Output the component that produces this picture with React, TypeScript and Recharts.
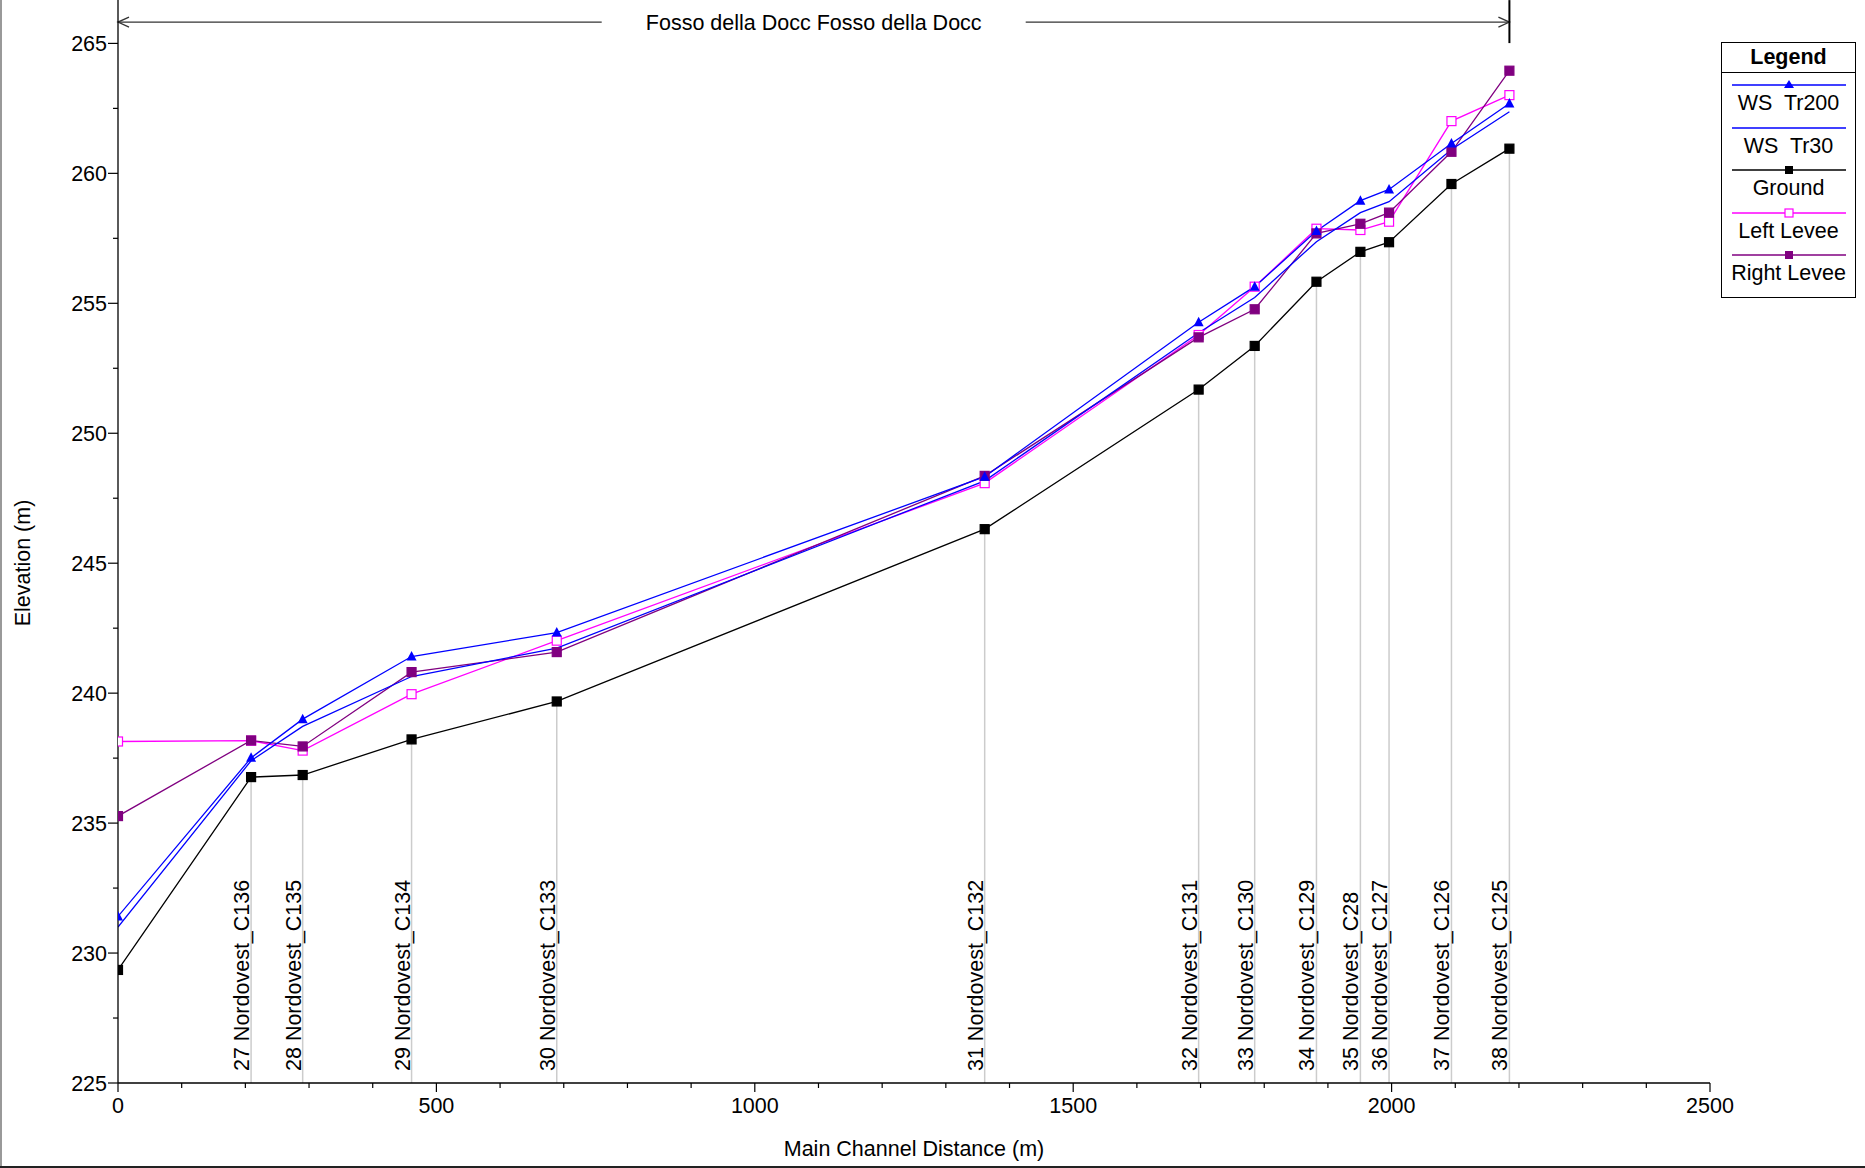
import React from 'react';
import { LineChart, Line, XAxis, YAxis, ReferenceLine } from 'recharts';

// river stations along the main channel (m) and their names
const DIST = [0, 209, 290, 461, 689, 1361, 1697, 1785, 1882, 1951, 1996, 2094, 2185];
const STATIONS = [
  '',
  '27 Nordovest_C136',
  '28 Nordovest_C135',
  '29 Nordovest_C134',
  '30 Nordovest_C133',
  '31 Nordovest_C132',
  '32 Nordovest_C131',
  '33 Nordovest_C130',
  '34 Nordovest_C129',
  '35 Nordovest_C28',
  '36 Nordovest_C127',
  '37 Nordovest_C126',
  '38 Nordovest_C125',
];

const WS_TR200 = [231.41, 237.51, 239.0, 241.41, 242.33, 248.33, 254.27, 255.64, 257.78, 258.95, 259.38, 261.15, 262.69];
const WS_TR30 = [231.0, 237.4, 238.72, 240.64, 241.73, 248.17, 253.87, 255.22, 257.37, 258.49, 258.91, 260.92, 262.37];
const GROUND = [229.35, 236.77, 236.85, 238.22, 239.68, 246.31, 251.68, 253.36, 255.83, 256.98, 257.35, 259.59, 260.95];
const LEFT_LEVEE = [238.14, 238.17, 237.79, 239.96, 242.02, 248.08, 253.78, 255.64, 257.87, 257.82, 258.14, 262.01, 263.01];
const RIGHT_LEVEE = [235.27, 238.18, 237.95, 240.81, 241.58, 248.36, 253.69, 254.77, 257.69, 258.06, 258.49, 260.83, 263.95];

const REACH_NAME = 'Fosso della Docc Fosso della Docc';
const REACH_Y = 265.82;

const Y_TICKS = Array.from({ length: 17 }, (_, i) => 225 + i * 2.5);
const X_TICKS = Array.from({ length: 26 }, (_, i) => i * 100);

const FONT = '"Liberation Sans", Arial, sans-serif';
const FS = 21.5;
const BLUE = '#0000ff';
const MAGENTA = '#ff00ff';
const PURPLE = '#800080';

const data = DIST.map((d, i) => ({
  dist: d,
  tr200: WS_TR200[i],
  tr30: WS_TR30[i],
  ground: GROUND[i],
  left: LEFT_LEVEE[i],
  right: RIGHT_LEVEE[i],
}));

const squareDot = (fill: string, stroke: string) => (p: any) => (
  <rect
    key={`sq-${stroke}-${p.index}`}
    x={p.cx - 4.5}
    y={p.cy - 4.5}
    width={9}
    height={9}
    fill={fill}
    stroke={stroke}
    strokeWidth={1.2}
  />
);

const triangleDot = (p: any) => (
  <polygon
    key={`tri-${p.index}`}
    points={`${p.cx},${p.cy - 5.5} ${p.cx - 5},${p.cy + 4} ${p.cx + 5},${p.cy + 4}`}
    fill={BLUE}
  />
);

const YTick = (props: any) => {
  const { x, y, payload } = props;
  const major = payload.value % 5 === 0;
  return (
    <g>
      <line x1={x - (major ? 10 : 5)} x2={x} y1={y} y2={y} stroke="#000" strokeWidth={1.2} />
      {major && (
        <text x={x - 11} y={y} dy="0.36em" textAnchor="end" fontSize={FS} fontFamily={FONT} fill="#000">
          {payload.value}
        </text>
      )}
    </g>
  );
};

const XTick = (props: any) => {
  const { x, y, payload } = props;
  const major = payload.value % 500 === 0;
  return (
    <g>
      <line x1={x} x2={x} y1={y} y2={y + (major ? 9 : 5)} stroke="#000" strokeWidth={1.2} />
      {major && (
        <text x={x} y={y + 30} textAnchor="middle" fontSize={FS} fontFamily={FONT} fill="#000">
          {payload.value}
        </text>
      )}
    </g>
  );
};

// grey drop line from the ground point to the axis, with the rotated station name
const stationShape = (name: string) => (p: any) => {
  const x = p.x1;
  const yTop = Math.min(p.y1, p.y2);
  const yBot = Math.max(p.y1, p.y2);
  return (
    <g>
      <line x1={x} x2={x} y1={yTop} y2={yBot} stroke="#cccccc" strokeWidth={1.5} />
      <text
        x={x - 2}
        y={yBot - 12}
        transform={`rotate(-90, ${x - 2}, ${yBot - 12})`}
        fontSize={FS}
        fontFamily={FONT}
        fill="#000"
      >
        {name}
      </text>
    </g>
  );
};

const reachShape = (p: any) => {
  const { x1, x2, y1 } = p;
  const mid = (x1 + x2) / 2;
  const gap = 212;
  return (
    <g>
      <line x1={x1} x2={mid - gap} y1={y1} y2={y1} stroke="#333" strokeWidth={1.3} />
      <line x1={mid + gap} x2={x2} y1={y1} y2={y1} stroke="#333" strokeWidth={1.3} />
      <polyline points={`${x1 + 11},${y1 - 5} ${x1},${y1} ${x1 + 11},${y1 + 5}`} fill="none" stroke="#333" strokeWidth={1.3} />
      <polyline points={`${x2 - 11},${y1 - 5} ${x2},${y1} ${x2 - 11},${y1 + 5}`} fill="none" stroke="#333" strokeWidth={1.3} />
      <line x1={x2} x2={x2} y1={y1 - 22} y2={y1 + 21} stroke="#000" strokeWidth={2} />
      <text x={mid} y={y1} dy="0.36em" textAnchor="middle" fontSize={FS} fontFamily={FONT} fill="#000">
        {REACH_NAME}
      </text>
    </g>
  );
};

const LEGEND_ITEMS = [
  { name: 'WS  Tr200', color: BLUE, marker: 'triangle' },
  { name: 'WS  Tr30', color: BLUE, marker: 'none' },
  { name: 'Ground', color: '#000', marker: 'filled' },
  { name: 'Left Levee', color: MAGENTA, marker: 'hollow' },
  { name: 'Right Levee', color: PURPLE, marker: 'filled' },
];

const ChartLegend = () => (
  <div
    style={{
      position: 'absolute',
      left: 1721,
      top: 42,
      width: 135,
      height: 256,
      border: '1px solid #000',
      background: '#fff',
      fontFamily: FONT,
      fontSize: FS,
      boxSizing: 'border-box',
    }}
  >
    <div style={{ height: 29, lineHeight: '28px', textAlign: 'center', fontWeight: 'bold', borderBottom: '1px solid #000' }}>
      Legend
    </div>
    {LEGEND_ITEMS.map((it) => (
      <div key={it.name} style={{ height: 42.6, position: 'relative' }}>
        <svg width={133} height={14} style={{ position: 'absolute', left: 0, top: 5 }}>
          <line x1={10} x2={124} y1={7} y2={7} stroke={it.color} strokeWidth={1.3} />
          {it.marker === 'triangle' && <polygon points="67,2 62,10 72,10" fill={it.color} />}
          {it.marker === 'filled' && <rect x={63} y={3} width={8} height={8} fill={it.color} />}
          {it.marker === 'hollow' && <rect x={63} y={3} width={8} height={8} fill="#fff" stroke={it.color} strokeWidth={1.2} />}
        </svg>
        <div style={{ position: 'absolute', left: 0, right: 0, top: 18, lineHeight: '24px', textAlign: 'center', whiteSpace: 'pre' }}>
          {it.name}
        </div>
      </div>
    ))}
  </div>
);

export default function App() {
  return (
    <div style={{ position: 'absolute', left: 0, top: 0, width: 1865, height: 1168, background: '#fff', overflow: 'hidden' }}>
      <LineChart
        width={1865}
        height={1168}
        data={data}
        margin={{ top: 0, right: 155, bottom: 25, left: 0 }}
      >
        <XAxis
          dataKey="dist"
          type="number"
          domain={[0, 2500]}
          ticks={X_TICKS}
          interval={0}
          height={60}
          tickSize={0}
          tickMargin={0}
          tickLine={false}
          tick={<XTick />}
          axisLine={{ stroke: '#000', strokeWidth: 1.3 }}
          allowDataOverflow
        />
        <YAxis
          type="number"
          domain={[225, 266.67]}
          ticks={Y_TICKS}
          interval={0}
          width={118}
          tickSize={0}
          tickMargin={0}
          tickLine={false}
          tick={<YTick />}
          axisLine={{ stroke: '#000', strokeWidth: 1.3 }}
          allowDataOverflow
        />
        {DIST.map((d, i) =>
          STATIONS[i] ? (
            <ReferenceLine
              key={`st-${i}`}
              segment={[
                { x: d, y: 225 },
                { x: d, y: GROUND[i] },
              ]}
              ifOverflow="visible"
              shape={stationShape(STATIONS[i])}
            />
          ) : null
        )}
        <ReferenceLine
          segment={[
            { x: DIST[0], y: REACH_Y },
            { x: DIST[DIST.length - 1], y: REACH_Y },
          ]}
          ifOverflow="visible"
          shape={reachShape}
        />
        <Line dataKey="ground" name="Ground" stroke="#000" strokeWidth={1.3} dot={squareDot('#000', '#000')} isAnimationActive={false} />
        <Line dataKey="left" name="Left Levee" stroke={MAGENTA} strokeWidth={1.3} dot={squareDot('#fff', MAGENTA)} isAnimationActive={false} />
        <Line dataKey="right" name="Right Levee" stroke={PURPLE} strokeWidth={1.3} dot={squareDot(PURPLE, PURPLE)} isAnimationActive={false} />
        <Line dataKey="tr30" name="WS  Tr30" stroke={BLUE} strokeWidth={1.3} dot={false} isAnimationActive={false} />
        <Line dataKey="tr200" name="WS  Tr200" stroke={BLUE} strokeWidth={1.3} dot={triangleDot} isAnimationActive={false} />
        <text x={30} y={563} transform="rotate(-90, 30, 563)" textAnchor="middle" fontSize={FS} fontFamily={FONT} fill="#000">
          Elevation (m)
        </text>
        <text x={914} y={1156} textAnchor="middle" fontSize={FS} fontFamily={FONT} fill="#000">
          Main Channel Distance (m)
        </text>
      </LineChart>
      <ChartLegend />
      <div style={{ position: 'absolute', left: 0, top: 0, width: 2, height: 1168, background: '#999' }} />
      <div style={{ position: 'absolute', left: 0, top: 1166, width: 1865, height: 2, background: '#222' }} />
    </div>
  );
}
